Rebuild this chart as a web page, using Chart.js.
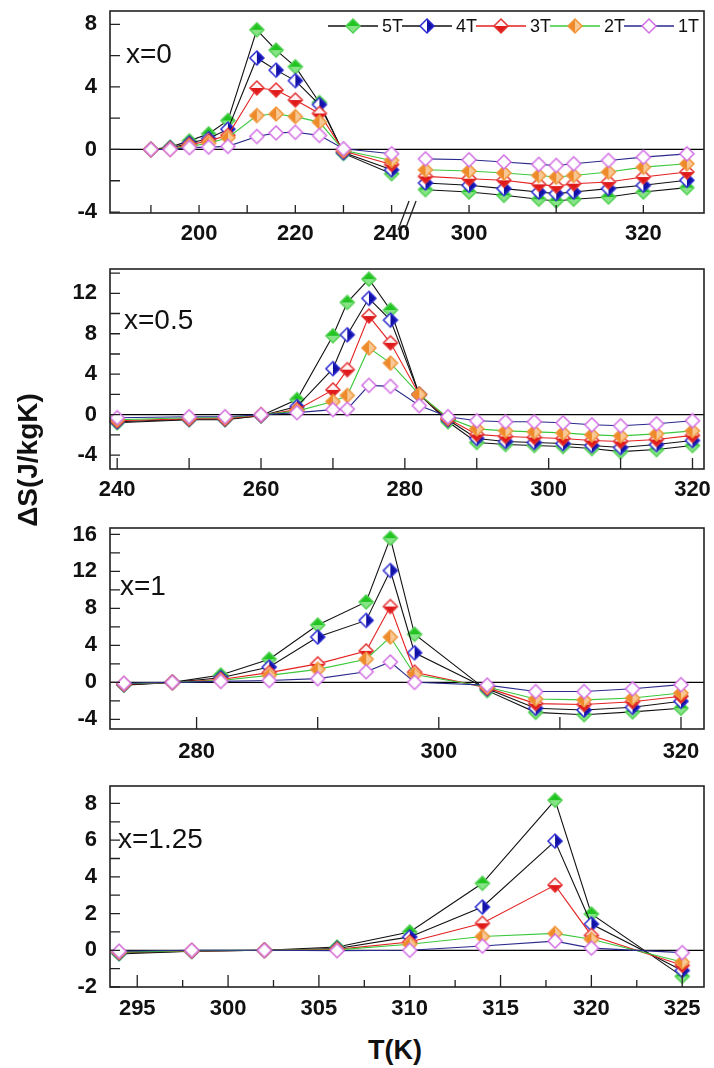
<!DOCTYPE html>
<html>
<head>
<meta charset="utf-8">
<script src="https://cdn.jsdelivr.net/npm/chart.js@4.4.1/dist/chart.umd.min.js"></script>
<style>
body{margin:0;background:#fff;width:714px;height:1068px;position:relative;overflow:hidden;font-family:"Liberation Sans",Arial,sans-serif;color:#111}
canvas{position:absolute;left:0}
.tag{position:absolute;font-size:28px;line-height:28px;white-space:nowrap}
#ytitle{position:absolute;left:-72px;top:445px;width:200px;height:30px;line-height:30px;text-align:center;font-weight:bold;font-size:28px;transform:rotate(-90deg)}
#xtitle{position:absolute;left:335px;top:1036px;width:120px;text-align:center;font-weight:bold;font-size:27px;line-height:28px}
</style>
</head>
<body>
<canvas id="p1" style="top:0px"></canvas>
<canvas id="p2" style="top:250px"></canvas>
<canvas id="p3" style="top:508px"></canvas>
<canvas id="p4" style="top:770px"></canvas>
<div class="tag" style="left:126px;top:40px">x=0</div>
<div class="tag" style="left:124px;top:306px">x=0.5</div>
<div class="tag" style="left:120px;top:572px">x=1</div>
<div class="tag" style="left:118px;top:825px">x=1.25</div>
<div id="ytitle">ΔS(J/kgK)</div>
<div id="xtitle">T(K)</div>
<script>
// field order used by every value table below
const fields = ['5T', '4T', '3T', '2T', '1T']

// x = 0, below and above the axis break
const t0low = [190, 194, 198, 202, 206, 212, 216, 220, 225, 230, 240]
const dS0low = [
  [0, 0.15, 0.55, 1.0, 1.85, 7.65, 6.35, 5.29, 3.0, -0.25, -1.55],
  [0, 0.1, 0.4, 0.7, 1.3, 5.85, 5.07, 4.4, 2.87, -0.2, -1.3],
  [0, 0.05, 0.3, 0.55, 0.9, 3.93, 3.8, 3.16, 2.3, -0.1, -0.96],
  [0, 0.02, 0.2, 0.4, 0.75, 2.17, 2.27, 2.1, 1.75, -0.05, -0.7],
  [0, 0, 0.12, 0.15, 0.2, 0.83, 1.06, 1.1, 0.9, 0.05, -0.27]
]
const t0high = [295, 300, 304, 308, 310, 312, 316, 320, 325]
const dS0high = [
  [-2.57, -2.72, -2.93, -3.18, -3.29, -3.18, -3.04, -2.72, -2.44],
  [-2.14, -2.29, -2.5, -2.72, -2.82, -2.72, -2.5, -2.29, -1.97],
  [-1.72, -1.87, -1.97, -2.23, -2.34, -2.19, -2.08, -1.76, -1.44],
  [-1.3, -1.38, -1.5, -1.66, -1.76, -1.66, -1.44, -1.13, -0.91],
  [-0.6, -0.66, -0.8, -0.95, -1.02, -0.91, -0.7, -0.49, -0.28]
]

// x = 0.5
const t05 = [240, 250, 255, 260, 265, 270, 272, 275, 278, 282, 286, 290, 294, 298, 302, 306, 310, 315, 320]
const dS05 = [
  [-0.8, -0.5, -0.5, -0.1, 1.5, 7.8, 11.1, 13.4, 10.35, 2.0, -0.7, -2.75, -2.95, -3.05, -3.15, -3.35, -3.65, -3.45, -3.05],
  [-0.7, -0.45, -0.45, -0.1, 0.8, 4.55, 7.9, 11.5, 9.35, 2.0, -0.5, -2.35, -2.65, -2.75, -2.85, -3.05, -3.25, -2.95, -2.55],
  [-0.6, -0.4, -0.4, -0.05, 0.5, 2.45, 4.45, 9.75, 7.1, 2.0, -0.4, -1.95, -2.15, -2.25, -2.35, -2.55, -2.65, -2.45, -2.05],
  [-0.5, -0.3, -0.3, 0, 0.35, 1.3, 1.9, 6.6, 5.1, 2.0, -0.3, -1.4, -1.6, -1.7, -1.8, -2.0, -2.1, -1.9, -1.6],
  [-0.3, -0.2, -0.2, 0, 0.2, 0.5, 0.55, 2.9, 2.8, 0.9, -0.2, -0.6, -0.7, -0.7, -0.8, -1.0, -1.1, -0.9, -0.6]
]

// x = 1
const t1 = [274, 278, 282, 286, 290, 294, 296, 298, 304, 308, 312, 316, 320]
const dS1 = [
  [-0.3, 0, 0.8, 2.5, 6.2, 8.7, 15.6, 5.2, -0.9, -3.25, -3.5, -3.2, -2.8],
  [-0.25, 0, 0.5, 1.65, 4.9, 6.7, 12.1, 3.2, -0.7, -2.8, -3.0, -2.7, -2.05],
  [-0.2, 0, 0.3, 1.05, 2.0, 3.4, 8.2, 1.1, -0.6, -2.3, -2.4, -2.1, -1.5],
  [-0.15, 0, 0.2, 0.75, 1.4, 2.5, 4.9, 0.85, -0.5, -1.8, -1.9, -1.7, -1.15],
  [-0.1, 0, 0.1, 0.2, 0.4, 1.15, 2.2, 0.0, -0.3, -1.0, -1.0, -0.7, -0.25]
]

// x = 1.25
const t125 = [294, 298, 302, 306, 310, 314, 318, 320, 325]
const dS125 = [
  [-0.2, -0.05, 0, 0.18, 1.0, 3.65, 8.18, 1.98, -1.42],
  [-0.15, -0.05, 0, 0.1, 0.73, 2.36, 5.95, 1.43, -1.1],
  [-0.1, -0.03, 0, 0.05, 0.45, 1.47, 3.55, 0.81, -0.82],
  [-0.1, -0.02, 0, 0.02, 0.33, 0.75, 0.92, 0.6, -0.64],
  [-0.05, 0, 0, -0.02, 0.0, 0.23, 0.5, 0.12, -0.13]
]

// tick positions and which of them carry a label
const yTicks0 = [-4, -2, 0, 2, 4, 6, 8], yLabels0 = [-4, 0, 4, 8]
const xTicks0low = [190, 200, 210, 220, 230, 240], xLabels0low = [200, 220, 240]
const xTicks0high = [300, 310, 320], xLabels0high = [300, 320]
const yTicks05 = [-4, -2, 0, 2, 4, 6, 8, 10, 12, 14], yLabels05 = [-4, 0, 4, 8, 12]
const xTicks05 = [240, 250, 260, 270, 280, 290, 300, 310, 320], xLabels05 = [240, 260, 280, 300, 320]
const yTicks1 = [-4, -2, 0, 2, 4, 6, 8, 10, 12, 14, 16], yLabels1 = [-4, 0, 4, 8, 12, 16]
const xTicks1 = [280, 290, 300, 310, 320], xLabels1 = [280, 300, 320]
const yTicks125 = [-2, -1, 0, 1, 2, 3, 4, 5, 6, 7, 8], yLabels125 = [-2, 0, 2, 4, 6, 8]
const xTicks125 = [295, 297.5, 300, 302.5, 305, 307.5, 310, 312.5, 315, 317.5, 320, 322.5, 325]
const xLabels125 = [295, 300, 305, 310, 315, 320, 325]

// look of each field
const lineColors = ['#111111', '#111111', '#e42020', '#3cc83c', '#2a2a8c']
const markers = [
  {back: '#86e486', fill: '#22c422', half: 'top', edge: '#52d052'},
  {back: '#ffffff', fill: '#1212a6', half: 'right', edge: '#2a2ad0'},
  {back: '#fff2f2', fill: '#e01a1a', half: 'bottom', edge: '#e43434'},
  {back: '#f8c894', fill: '#ee8a2a', half: 'left', edge: '#f0963c'},
  {back: '#ffffff', fill: null, half: null, edge: '#d26ee4'}
]

const family = '"Liberation Sans", Arial, sans-serif'
const tickFont = {family, size: 22, weight: 'bold'}
const tickPad = 8

function diamond(m, lineColor, width) {
  const c = document.createElement('canvas')
  const r = 7, h = 18
  c.width = width || h
  c.height = h
  const g = c.getContext('2d')
  const cx = c.width / 2, cy = h / 2
  if (lineColor) {
    g.strokeStyle = lineColor
    g.lineWidth = 1.3
    g.beginPath(); g.moveTo(0, cy); g.lineTo(c.width, cy); g.stroke()
  }
  const path = () => {
    g.beginPath()
    g.moveTo(cx, cy - r); g.lineTo(cx + r, cy); g.lineTo(cx, cy + r); g.lineTo(cx - r, cy)
    g.closePath()
  }
  path(); g.fillStyle = m.back; g.fill()
  if (m.half) {
    const rects = {
      top: [cx - r, cy - r, 2 * r, r], bottom: [cx - r, cy, 2 * r, r],
      left: [cx - r, cy - r, r, 2 * r], right: [cx, cy - r, r, 2 * r]
    }
    g.save(); path(); g.clip()
    g.fillStyle = m.fill
    g.fillRect(...rects[m.half])
    g.restore()
  }
  path(); g.strokeStyle = m.edge; g.lineWidth = 1.5; g.stroke()
  return c
}

const pointIcons = markers.map(m => diamond(m))
const legendIcons = markers.map((m, i) => diamond(m, lineColors[i], 50))

// one dataset per field; reversed so 1T is painted last
function buildSets(ts, table, axis) {
  const sets = table.map((vals, i) => ({
    label: fields[i],
    data: ts.map((t, k) => ({x: t, y: vals[k]})),
    xAxisID: axis,
    borderColor: lineColors[i],
    borderWidth: 1.1,
    pointStyle: pointIcons[i],
    pointRadius: 7,
    clip: false
  }))
  return sets.reverse()
}

function yScale(min, max, ticks, labels) {
  return {
    type: 'linear', position: 'left', min, max,
    afterFit: s => { s.width = 110; s.paddingTop = 0; s.paddingBottom = 0 },
    afterBuildTicks: s => { s.ticks = ticks.map(v => ({value: v})) },
    ticks: {font: tickFont, color: '#111', padding: 13, callback: v => labels.includes(v) ? v : ''},
    grid: {display: false, drawTicks: false},
    border: {display: false}
  }
}

function xScale(min, max, ticks, labels, height, pad, show) {
  return {
    type: 'linear', position: 'bottom', min, max,
    afterFit: s => { s.height = height; s.paddingLeft = 0; s.paddingRight = 0 },
    afterBuildTicks: s => { s.ticks = ticks.map(v => ({value: v})) },
    ticks: {display: show !== false, font: tickFont, color: '#111', padding: pad, maxRotation: 0, autoSkip: false,
      callback: v => labels.includes(v) ? v : ''},
    grid: {display: false, drawTicks: false},
    border: {display: false}
  }
}

// frame, zero line, inward tick marks, axis break and the field key
function framePlugin(spec) {
  return {
    id: 'frame',
    beforeDatasetsDraw(chart) {
      const {ctx, chartArea: a, scales} = chart
      const y0 = scales.y.getPixelForValue(0)
      ctx.save()
      ctx.strokeStyle = '#000'
      ctx.lineWidth = 1.2
      ctx.beginPath(); ctx.moveTo(a.left, y0); ctx.lineTo(a.right, y0); ctx.stroke()
      ctx.restore()
    },
    afterDraw(chart) {
      const {ctx, chartArea: a, scales} = chart
      ctx.save()
      ctx.strokeStyle = '#222'
      ctx.lineWidth = 1.6
      ctx.strokeRect(a.left, a.top, a.right - a.left, a.bottom - a.top)
      ctx.lineWidth = 1.3
      ctx.beginPath()
      spec.x.forEach(d => {
        const sc = scales[d.id]
        d.ticks.forEach(v => {
          const px = sc.getPixelForValue(v)
          const len = d.labels.includes(v) ? d.len : d.minor
          ctx.moveTo(px, a.bottom); ctx.lineTo(px, a.bottom - len)
        })
      })
      spec.y.ticks.forEach(v => {
        const py = scales.y.getPixelForValue(v)
        ctx.moveTo(a.left, py); ctx.lineTo(a.left + spec.y.len, py)
      })
      ctx.stroke()

      // labels of the upper temperature range share the row of the lower one
      if (spec.extraLabels) {
        const sc = scales[spec.extraLabels.id]
        ctx.fillStyle = '#111'
        ctx.font = `bold ${tickFont.size}px ${family}`
        ctx.textAlign = 'center'
        ctx.textBaseline = 'middle'
        spec.extraLabels.labels.forEach(v => {
          ctx.fillText(String(v), sc.getPixelForValue(v), a.bottom + tickPad + tickFont.size * 0.6)
        })
      }

      if (spec.breakAt) {
        const bx = scales.xL.getPixelForValue(spec.breakAt)
        ctx.strokeStyle = '#222'
        ctx.lineWidth = 1.3
        ctx.beginPath()
        ctx.moveTo(bx - 8, a.bottom + 17); ctx.lineTo(bx + 3, a.bottom - 12)
        ctx.moveTo(bx - 1, a.bottom + 17); ctx.lineTo(bx + 10, a.bottom - 12)
        ctx.stroke()
      }

      if (spec.key) {
        ctx.font = `18px ${family}`
        ctx.fillStyle = '#111'
        ctx.textAlign = 'left'
        ctx.textBaseline = 'middle'
        const yMid = a.top + 15
        let right = a.right - 5
        for (let i = fields.length - 1; i >= 0; i--) {
          const w = ctx.measureText(fields[i]).width
          const textLeft = right - w
          ctx.fillText(fields[i], textLeft, yMid + 1)
          const icon = legendIcons[i]
          const iconLeft = textLeft - 4 - icon.width
          ctx.drawImage(icon, iconLeft, yMid - icon.height / 2)
          right = iconLeft + 1
        }
      }
      ctx.restore()
    }
  }
}

function makeChart(id, w, h, padTop, datasets, scales, spec) {
  const cv = document.getElementById(id)
  cv.width = w; cv.height = h
  cv.style.width = w + 'px'; cv.style.height = h + 'px'
  return new Chart(cv, {
    type: 'line',
    data: {datasets},
    options: {
      responsive: false,
      animation: false,
      devicePixelRatio: 1,
      layout: {padding: {top: padTop, right: 10, left: 0, bottom: 0}},
      scales,
      plugins: {
        tooltip: {enabled: false},
        legend: {display: false}
      }
    },
    plugins: [framePlugin(spec)]
  })
}

// x = 0 : broken temperature axis, two x scales spanning the same box
makeChart('p1', 714, 250, 11,
  [...buildSets(t0low, dS0low, 'xL'), ...buildSets(t0high, dS0high, 'xR')],
  {
    y: yScale(-4.06, 8.85, yTicks0, yLabels0),
    xL: xScale(181.5, 304.9, xTicks0low, xLabels0low, 37, tickPad),
    xR: xScale(258.8, 326.96, xTicks0high, xLabels0high, 0, tickPad, false)
  },
  {
    x: [
      {id: 'xL', ticks: xTicks0low, labels: xLabels0low, len: 8, minor: 8},
      {id: 'xR', ticks: xTicks0high, labels: xLabels0high, len: 8, minor: 8}
    ],
    y: {ticks: yTicks0, len: 10},
    extraLabels: {id: 'xR', labels: xLabels0high},
    breakAt: 243,
    key: true
  })

makeChart('p2', 714, 258, 19, buildSets(t05, dS05, 'x'),
  {y: yScale(-5.37, 14.4, yTicks05, yLabels05), x: xScale(239, 321.6, xTicks05, xLabels05, 39, tickPad)},
  {x: [{id: 'x', ticks: xTicks05, labels: xLabels05, len: 11, minor: 11}], y: {ticks: yTicks05, len: 10}})

makeChart('p3', 714, 262, 20, buildSets(t1, dS1, 'x'),
  {y: yScale(-5.05, 16.7, yTicks1, yLabels1), x: xScale(272.85, 321.9, xTicks1, xLabels1, 41, 10)},
  {x: [{id: 'x', ticks: xTicks1, labels: xLabels1, len: 12, minor: 12}], y: {ticks: yTicks1, len: 10}})

makeChart('p4', 714, 260, 16, buildSets(t125, dS125, 'x'),
  {y: yScale(-2, 8.95, yTicks125, yLabels125), x: xScale(293.5, 326.2, xTicks125, xLabels125, 43, 9)},
  {x: [{id: 'x', ticks: xTicks125, labels: xLabels125, len: 12, minor: 7}], y: {ticks: yTicks125, len: 10}})
</script>
</body>
</html>
